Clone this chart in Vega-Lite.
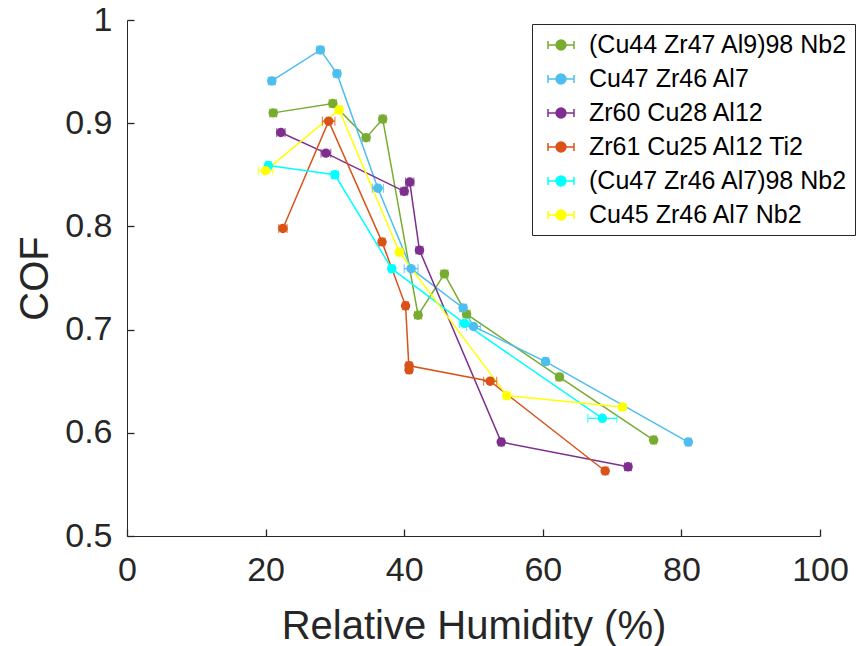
{
  "$schema": "https://vega.github.io/schema/vega-lite/v6.json",
  "width": 693,
  "height": 516,
  "autosize": "none",
  "padding": {"left": 127, "top": 20, "right": 40, "bottom": 110},
  "background": "white",
  "config": {
    "view": {"stroke": null},
    "axis": {
      "grid": false,
      "domainColor": "#262626",
      "domainWidth": 1,
      "tickColor": "#262626",
      "tickWidth": 1.3,
      "tickSize": -7,
      "labelFlush": false,
      "labelFont": "Liberation Sans",
      "labelFontSize": 34,
      "labelColor": "#262626",
      "titleFont": "Liberation Sans",
      "titleFontSize": 40,
      "titleFontWeight": "normal",
      "titleColor": "#262626"
    }
  },
  "data": {
    "values": [
      {"alloy": "(Cu44 Zr47 Al9)98 Nb2", "i": 1, "rh": 21.1, "cof": 0.910, "err": 0.5},
      {"alloy": "(Cu44 Zr47 Al9)98 Nb2", "i": 2, "rh": 29.7, "cof": 0.919, "err": 0.5},
      {"alloy": "(Cu44 Zr47 Al9)98 Nb2", "i": 3, "rh": 34.5, "cof": 0.886, "err": 0.5},
      {"alloy": "(Cu44 Zr47 Al9)98 Nb2", "i": 4, "rh": 36.9, "cof": 0.904, "err": 0.5},
      {"alloy": "(Cu44 Zr47 Al9)98 Nb2", "i": 5, "rh": 42.0, "cof": 0.714, "err": 0.5},
      {"alloy": "(Cu44 Zr47 Al9)98 Nb2", "i": 6, "rh": 45.8, "cof": 0.754, "err": 0.5},
      {"alloy": "(Cu44 Zr47 Al9)98 Nb2", "i": 7, "rh": 49.0, "cof": 0.715, "err": 0.5},
      {"alloy": "(Cu44 Zr47 Al9)98 Nb2", "i": 8, "rh": 62.4, "cof": 0.654, "err": 0.5},
      {"alloy": "(Cu44 Zr47 Al9)98 Nb2", "i": 9, "rh": 76.0, "cof": 0.593, "err": 0.4},
      {"alloy": "Cu47 Zr46 Al7", "i": 1, "rh": 20.9, "cof": 0.941, "err": 0.5},
      {"alloy": "Cu47 Zr46 Al7", "i": 2, "rh": 27.9, "cof": 0.971, "err": 0.5},
      {"alloy": "Cu47 Zr46 Al7", "i": 3, "rh": 30.3, "cof": 0.948, "err": 0.5},
      {"alloy": "Cu47 Zr46 Al7", "i": 4, "rh": 36.2, "cof": 0.837, "err": 0.8},
      {"alloy": "Cu47 Zr46 Al7", "i": 5, "rh": 41.0, "cof": 0.759, "err": 1.0},
      {"alloy": "Cu47 Zr46 Al7", "i": 6, "rh": 48.5, "cof": 0.721, "err": 0.5},
      {"alloy": "Cu47 Zr46 Al7", "i": 7, "rh": 50.0, "cof": 0.703, "err": 1.0},
      {"alloy": "Cu47 Zr46 Al7", "i": 8, "rh": 60.4, "cof": 0.669, "err": 0.4},
      {"alloy": "Cu47 Zr46 Al7", "i": 9, "rh": 81.0, "cof": 0.591, "err": 0.4},
      {"alloy": "Zr60 Cu28 Al12", "i": 1, "rh": 22.2, "cof": 0.891, "err": 0.6},
      {"alloy": "Zr60 Cu28 Al12", "i": 2, "rh": 28.7, "cof": 0.871, "err": 0.7},
      {"alloy": "Zr60 Cu28 Al12", "i": 3, "rh": 40.0, "cof": 0.834, "err": 0.5},
      {"alloy": "Zr60 Cu28 Al12", "i": 4, "rh": 40.8, "cof": 0.843, "err": 0.6},
      {"alloy": "Zr60 Cu28 Al12", "i": 5, "rh": 42.2, "cof": 0.777, "err": 0.5},
      {"alloy": "Zr60 Cu28 Al12", "i": 6, "rh": 54.0, "cof": 0.591, "err": 0.4},
      {"alloy": "Zr60 Cu28 Al12", "i": 7, "rh": 72.3, "cof": 0.567, "err": 0.5},
      {"alloy": "Zr61 Cu25 Al12 Ti2", "i": 1, "rh": 22.5, "cof": 0.798, "err": 0.6},
      {"alloy": "Zr61 Cu25 Al12 Ti2", "i": 2, "rh": 29.1, "cof": 0.902, "err": 0.9},
      {"alloy": "Zr61 Cu25 Al12 Ti2", "i": 3, "rh": 36.8, "cof": 0.785, "err": 0.4},
      {"alloy": "Zr61 Cu25 Al12 Ti2", "i": 4, "rh": 40.2, "cof": 0.723, "err": 0.4},
      {"alloy": "Zr61 Cu25 Al12 Ti2", "i": 5, "rh": 40.7, "cof": 0.661, "err": 0.4},
      {"alloy": "Zr61 Cu25 Al12 Ti2", "i": 6, "rh": 40.7, "cof": 0.665, "err": 0.4},
      {"alloy": "Zr61 Cu25 Al12 Ti2", "i": 7, "rh": 52.4, "cof": 0.650, "err": 0.95},
      {"alloy": "Zr61 Cu25 Al12 Ti2", "i": 8, "rh": 69.0, "cof": 0.563, "err": 0.4},
      {"alloy": "(Cu47 Zr46 Al7)98 Nb2", "i": 1, "rh": 20.4, "cof": 0.859, "err": 0.4},
      {"alloy": "(Cu47 Zr46 Al7)98 Nb2", "i": 2, "rh": 30.0, "cof": 0.850, "err": 0.5},
      {"alloy": "(Cu47 Zr46 Al7)98 Nb2", "i": 3, "rh": 38.2, "cof": 0.759, "err": 0.4},
      {"alloy": "(Cu47 Zr46 Al7)98 Nb2", "i": 4, "rh": 48.7, "cof": 0.706, "err": 0.75},
      {"alloy": "(Cu47 Zr46 Al7)98 Nb2", "i": 5, "rh": 68.6, "cof": 0.614, "err": 2.1},
      {"alloy": "Cu45 Zr46 Al7 Nb2", "i": 1, "rh": 20.0, "cof": 0.854, "err": 1.05},
      {"alloy": "Cu45 Zr46 Al7 Nb2", "i": 2, "rh": 30.6, "cof": 0.913, "err": 0.5},
      {"alloy": "Cu45 Zr46 Al7 Nb2", "i": 3, "rh": 39.3, "cof": 0.775, "err": 0.5},
      {"alloy": "Cu45 Zr46 Al7 Nb2", "i": 4, "rh": 54.8, "cof": 0.636, "err": 0.5},
      {"alloy": "Cu45 Zr46 Al7 Nb2", "i": 5, "rh": 71.5, "cof": 0.625, "err": 0.55}
    ]
  },
  "encoding": {
    "x": {
      "field": "rh",
      "type": "quantitative",
      "scale": {"domain": [0, 100]},
      "title": "Relative Humidity (%)",
      "axis": {"values": [0, 20, 40, 60, 80, 100], "labelPadding": 24, "titlePadding": 19}
    },
    "y": {
      "field": "cof",
      "type": "quantitative",
      "scale": {"domain": [0.5, 1], "zero": false},
      "title": "COF",
      "axis": {"values": [0.5, 0.6, 0.7, 0.8, 0.9, 1], "format": ".1~f", "labelPadding": 22, "titlePadding": 9}
    },
    "color": {
      "field": "alloy",
      "type": "nominal",
      "scale": {
        "domain": ["(Cu44 Zr47 Al9)98 Nb2", "Cu47 Zr46 Al7", "Zr60 Cu28 Al12", "Zr61 Cu25 Al12 Ti2", "(Cu47 Zr46 Al7)98 Nb2", "Cu45 Zr46 Al7 Nb2"],
        "range": ["#77AC30", "#4DBEEE", "#7E2F8E", "#D95319", "#00FFFF", "#FFFF00"]
      },
      "legend": {
        "title": null,
        "orient": "none",
        "legendX": 405,
        "legendY": 4,
        "strokeColor": "#262626",
        "fillColor": "white",
        "padding": 7,
        "labelFont": "Liberation Sans",
        "labelFontSize": 25,
        "labelLimit": 0,
        "labelColor": "black",
        "labelOffset": 14,
        "symbolOffset": 8,
        "symbolType": "M-1,0H1M-1,-0.3V0.3M1,-0.3V0.3M0.38,0A0.38,0.38 0 1 1 -0.38,0A0.38,0.38 0 1 1 0.38,0Z",
        "symbolSize": 676,
        "symbolStrokeWidth": 1.5,
        "rowPadding": 7,
        "encode": {
          "symbols": {
            "update": {
              "fill": {"scale": "color", "field": "value"},
              "stroke": {"scale": "color", "field": "value"},
              "opacity": {"value": 1}
            }
          }
        }
      }
    }
  },
  "layer": [
    {
      "mark": {"type": "line", "strokeWidth": 1.5},
      "encoding": {"order": {"field": "i", "type": "quantitative"}}
    },
    {
      "mark": {"type": "errorbar", "ticks": {"size": 9}, "thickness": 1.2},
      "encoding": {"xError": {"field": "err"}}
    },
    {
      "mark": {"type": "point", "filled": true, "size": 90, "opacity": 1}
    }
  ]
}
